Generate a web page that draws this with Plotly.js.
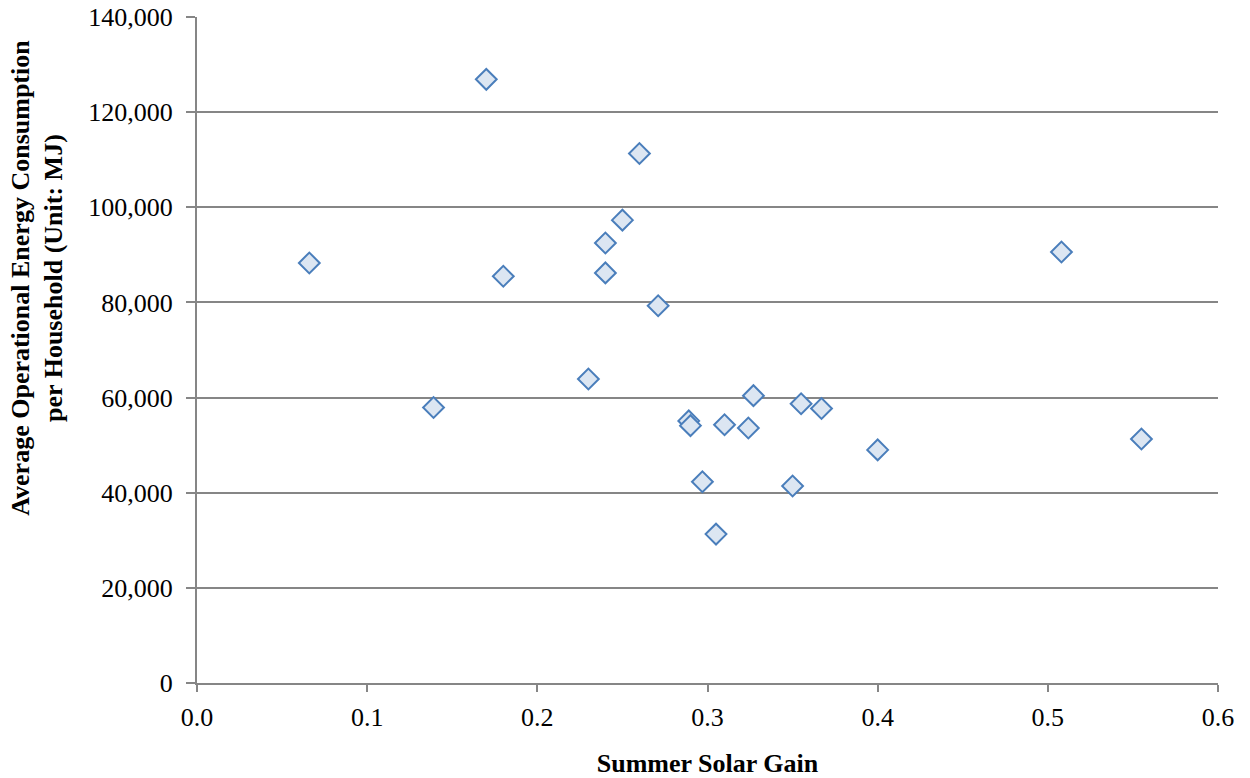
<!DOCTYPE html>
<html>
<head>
<meta charset="utf-8">
<script src="https://cdn.plot.ly/plotly-3.0.1.min.js"></script>
<style>html,body{margin:0;padding:0;background:#fff;}#chart{width:1250px;height:778px;}</style>
</head>
<body>
<div id="chart"></div>
<script>
const solarGain = [0.066, 0.139, 0.170, 0.180, 0.230, 0.240, 0.240, 0.250, 0.260, 0.271, 0.289, 0.290, 0.297, 0.305, 0.310, 0.324, 0.327, 0.350, 0.355, 0.367, 0.400, 0.508, 0.555];
const energy = [88300, 57900, 126900, 85500, 63900, 92500, 86200, 97300, 111300, 79300, 55100, 54100, 42300, 31300, 54300, 53600, 60400, 41400, 58700, 57700, 49000, 90600, 51300];
const xTickVals = [0, 0.1, 0.2, 0.3, 0.4, 0.5, 0.6];
const xTickText = ["0.0", "0.1", "0.2", "0.3", "0.4", "0.5", "0.6"];
const yTickVals = [0, 20000, 40000, 60000, 80000, 100000, 120000, 140000];
const yTickText = ["0", "20,000", "40,000", "60,000", "80,000", "100,000", "120,000", "140,000"];
const xTitle = 'Summer Solar Gain';
const yTitle = 'Average Operational Energy Consumption<br>per Household (Unit: MJ)';

const trace = {
  x: solarGain, y: energy, type: 'scatter', mode: 'markers',
  marker: {symbol: 'diamond', size: 16, color: '#dce6f2', line: {color: '#4a7ebb', width: 2}},
  hoverinfo: 'x+y'
};
const layout = {
  width: 1250, height: 778,
  margin: {l: 197, r: 32, t: 17, b: 95},
  paper_bgcolor: '#fff', plot_bgcolor: '#fff',
  font: {family: '"Liberation Serif", "Times New Roman", serif', size: 26, color: '#000'},
  showlegend: false,
  xaxis: {
    range: [0, 0.6], tickvals: xTickVals, ticktext: xTickText,
    showgrid: false, zeroline: false, showline: true, linecolor: '#868686', linewidth: 2,
    ticks: 'outside', ticklen: 7, tickcolor: '#868686', tickwidth: 2,
    ticklabelstandoff: 3,
    tickfont: {size: 26},
    title: {text: '<b>' + xTitle + '</b>', font: {size: 26}, standoff: 24}
  },
  yaxis: {
    range: [0, 140000], tickvals: yTickVals, ticktext: yTickText,
    showgrid: true, gridcolor: '#868686', gridwidth: 2,
    zeroline: false, showline: true, linecolor: '#868686', linewidth: 2,
    ticks: 'outside', ticklen: 9, tickcolor: '#868686', tickwidth: 2,
    ticklabelstandoff: 8,
    tickfont: {size: 26}
  },
  annotations: [{
    text: '<b>' + yTitle + '</b>', xref: 'paper', yref: 'paper',
    x: -0.157, y: 0.608, xanchor: 'center', yanchor: 'middle',
    textangle: -90, showarrow: false, font: {size: 26}
  }]
};
Plotly.newPlot('chart', [trace], layout, {displayModeBar: false, staticPlot: true});
</script>
</body>
</html>
